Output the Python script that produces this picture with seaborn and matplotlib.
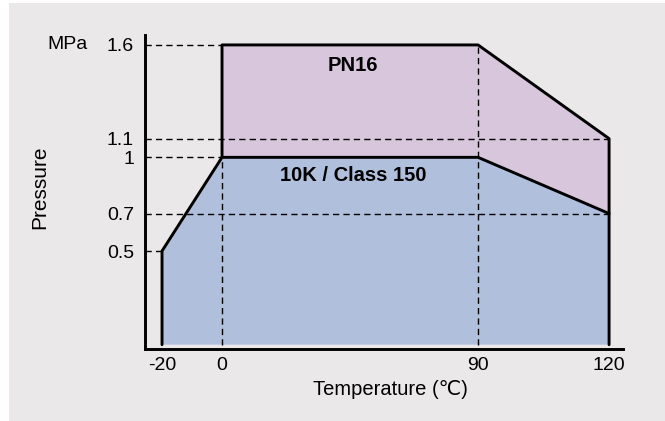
import numpy as np
import matplotlib
matplotlib.use('Agg')
import matplotlib.pyplot as plt
import matplotlib.patches as mpatches
import seaborn as sns

# pressure-temperature rating curves (temperature in C, pressure in MPa)
pn16_temp = [0, 0, 90, 120, 120]
pn16_press = [1.0, 1.6, 1.6, 1.1, 0.7]
class150_temp = [-20, -20, 0, 90, 120, 120]
class150_press = [0.0, 0.5, 1.0, 1.0, 0.7, 0.0]

x_ticks = [-20, 0, 90, 120]
y_ticks = [0.5, 0.7, 1.0, 1.1, 1.6]
y_tick_labels = ['0.5', '0.7', '1', '1.1', '1.6']

# guide lines: (pressure, temperature where the guide ends)
h_guides = [(1.6, 0), (1.1, 120), (1.0, 0), (0.7, 120), (0.5, -20)]
# (temperature, pressure where the guide ends)
v_guides = [(0, 1.0), (90, 1.6)]

# schematic (non-linear) spacing of the temperature axis
scale_temp = [-40, -20, 0, 90, 120, 140]
scale_pos = [-120, -60, 0, 256, 387, 474]

bg = '#ebe8ea'
purple = '#d8c6dc'
blue = '#b0bfdc'

sns.set_style('white')
plt.rcParams['font.family'] = ['Liberation Sans', 'DejaVu Sans']
plt.rcParams['text.color'] = 'black'

fig = plt.figure(figsize=(6.65, 4.21), dpi=100)
fig.patch.set_facecolor('white')
fig.patches.append(mpatches.Rectangle((9 / 665, 0), 1, 418 / 421, transform=fig.transFigure,
                                      facecolor=bg, edgecolor='none', zorder=-10))
ax = fig.add_axes([145 / 665, (421 - 349) / 421, 478 / 665, 314 / 421])
ax.set_facecolor(bg)

ax.set_xscale('function', functions=(lambda t: np.interp(t, scale_temp, scale_pos),
                                      lambda p: np.interp(p, scale_pos, scale_temp)))
ax.set_xlim(-25.67, 123.2)
ax.set_ylim(-0.023, 1.653)

# fills
ax.fill(class150_temp, class150_press, color=blue, lw=0, zorder=1)
upper = list(zip(pn16_temp, pn16_press))
lower = [(t, p) for t, p in zip(class150_temp, class150_press) if t >= 0 and p > 0]
poly = upper + lower[::-1]
ax.fill([p[0] for p in poly], [p[1] for p in poly], color=purple, lw=0, zorder=1)

# dashed guides
x0 = ax.get_xlim()[0]
for p, t in h_guides:
    ax.plot([x0, t], [p, p], color='black', lw=1, ls=(0, (4.5, 3)), zorder=2)
for t, p in v_guides:
    ax.plot([t, t], [0, p], color='black', lw=1, ls=(0, (4.5, 3)), zorder=2)

# rating curves
sns.lineplot(x=pn16_temp, y=pn16_press, estimator=None, sort=False,
             color='black', lw=2.1, ax=ax, zorder=3)
sns.lineplot(x=class150_temp, y=class150_press, estimator=None, sort=False,
             color='black', lw=2.1, ax=ax, zorder=3)

ax.text(46, 1.49, 'PN16', ha='center', va='center', fontsize=14.5, fontweight='bold')
ax.text(46, 0.905, '10K / Class 150', ha='center', va='center', fontsize=14.5, fontweight='bold')

ax.set_xticks(x_ticks)
ax.set_xticklabels([str(t) for t in x_ticks])
ax.set_yticks(y_ticks)
ax.set_yticklabels(y_tick_labels)
ax.xaxis.set_minor_locator(matplotlib.ticker.NullLocator())
ax.tick_params(axis='both', length=0, labelsize=14, colors='black')
ax.tick_params(axis='y', pad=8)
ax.tick_params(axis='x', pad=6)

ax.annotate('MPa', xy=(0, 1.6), xycoords=('axes fraction', 'data'), xytext=(-41, 0),
            textcoords='offset points', ha='right', va='center', fontsize=14)

ax.set_ylabel('Pressure', fontsize=15, color='black')
ax.yaxis.set_label_coords(-0.200, 0.516)
ax.set_xlabel('Temperature (℃)', fontsize=14.5, color='black')
ax.xaxis.set_label_coords(0.513, -0.098)

sns.despine(ax=ax)
for s in ['left', 'bottom']:
    ax.spines[s].set_linewidth(2.1)
    ax.spines[s].set_color('black')

fig.savefig('out.png', dpi=100)
